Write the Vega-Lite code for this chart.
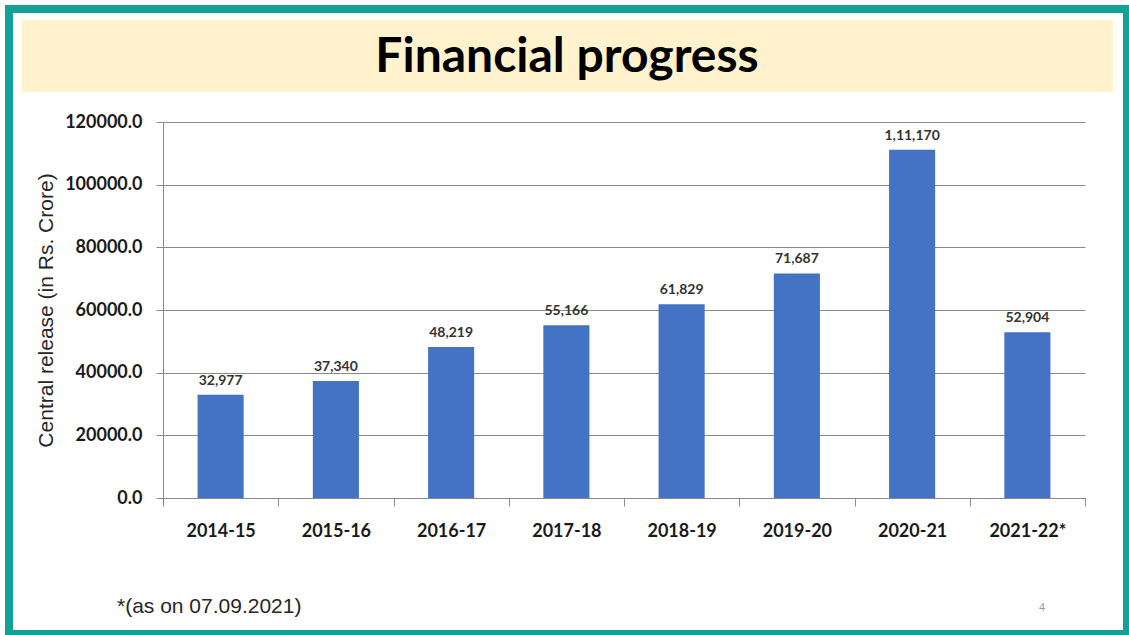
{
  "$schema": "https://vega.github.io/schema/vega-lite/v6.json",
  "autosize": {"type": "none"},
  "width": 922,
  "height": 376,
  "padding": {"left": 163, "top": 122, "right": 44, "bottom": 137},
  "background": "white",
  "config": {"view": {"stroke": null}},
  "datasets": {
    "bars": [
      {"year": "2014-15", "release": 32977, "label": "32,977"},
      {"year": "2015-16", "release": 37340, "label": "37,340"},
      {"year": "2016-17", "release": 48219, "label": "48,219"},
      {"year": "2017-18", "release": 55166, "label": "55,166"},
      {"year": "2018-19", "release": 61829, "label": "61,829"},
      {"year": "2019-20", "release": 71687, "label": "71,687"},
      {"year": "2020-21", "release": 111170, "label": "1,11,170"},
      {"year": "2021-22*", "release": 52904, "label": "52,904"}
    ],
    "deco": [{"title": "Financial progress", "note": "*(as on 07.09.2021)", "page": "4"}]
  },
  "layer": [
    {
      "data": {"name": "deco"},
      "mark": {"type": "rect", "fill": null, "stroke": "#12A097", "strokeWidth": 8},
      "encoding": {"x": {"value": -154}, "x2": {"value": 964}, "y": {"value": -113}, "y2": {"value": 512}}
    },
    {
      "data": {"name": "deco"},
      "mark": {"type": "rect", "fill": "#FFF2CC"},
      "encoding": {"x": {"value": -141}, "x2": {"value": 950}, "y": {"value": -102}, "y2": {"value": -30}}
    },
    {
      "data": {"name": "deco"},
      "mark": {"type": "text", "font": "Lato", "fontWeight": "bold", "fontSize": 48, "color": "#000000", "align": "center", "baseline": "middle"},
      "encoding": {"text": {"field": "title"}, "x": {"value": 404}, "y": {"value": -64}}
    },
    {
      "data": {"name": "deco"},
      "mark": {"type": "text", "font": "Liberation Sans", "fontSize": 21, "color": "#262626", "align": "left", "baseline": "middle"},
      "encoding": {"text": {"field": "note"}, "x": {"value": -46}, "y": {"value": 485}}
    },
    {
      "data": {"name": "deco"},
      "mark": {"type": "text", "font": "Liberation Sans", "fontSize": 11, "color": "#9a9a9a", "align": "center", "baseline": "middle"},
      "encoding": {"text": {"field": "page"}, "x": {"value": 879}, "y": {"value": 486}}
    },
    {
      "data": {"name": "bars"},
      "mark": {"type": "bar", "color": "#4472C4", "width": {"band": 0.4}},
      "encoding": {
        "x": {
          "field": "year", "type": "nominal", "sort": null,
          "scale": {"paddingInner": 0, "paddingOuter": 0},
          "axis": {
            "title": null, "labelAngle": 0, "tickBand": "extent", "grid": false,
            "domainColor": "#8a8a8a", "tickColor": "#8a8a8a", "tickSize": 8,
            "labelFont": "Lato", "labelFontWeight": "bold", "labelFontSize": 18,
            "labelColor": "#1a1a1a", "labelPadding": 16
          }
        },
        "y": {
          "field": "release", "type": "quantitative",
          "scale": {"domain": [0, 120000], "nice": false},
          "axis": {
            "title": "Central release (in Rs. Crore)", "values": [0, 20000, 40000, 60000, 80000, 100000, 120000],
            "format": ".1f", "gridColor": "#8a8a8a", "gridWidth": 1,
            "domainColor": "#8a8a8a", "tickColor": "#8a8a8a", "tickSize": 7,
            "labelFont": "Lato", "labelFontWeight": "bold", "labelFontSize": 18,
            "labelColor": "#1a1a1a", "labelPadding": 14,
            "titleFont": "Liberation Sans", "titleFontWeight": "normal", "titleFontSize": 21,
            "titleColor": "#262626", "titlePadding": 8
          }
        }
      }
    },
    {
      "data": {"name": "bars"},
      "mark": {"type": "text", "font": "Lato", "fontWeight": "bold", "fontSize": 14, "color": "#333333", "baseline": "bottom", "dy": -7},
      "encoding": {
        "x": {"field": "year", "type": "nominal", "sort": null},
        "y": {"field": "release", "type": "quantitative"},
        "text": {"field": "label"}
      }
    }
  ]
}
